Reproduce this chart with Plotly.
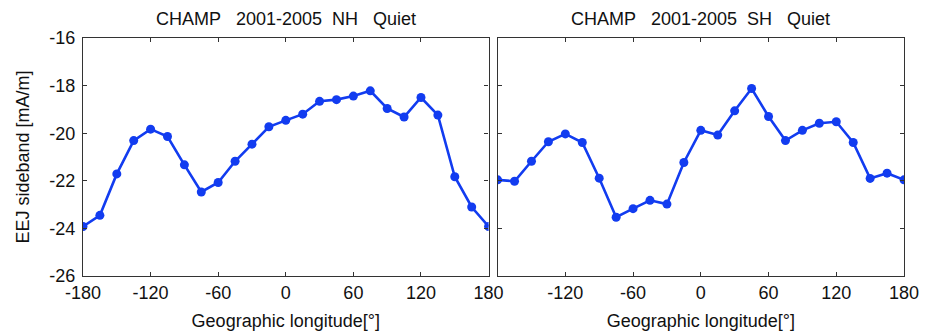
import plotly.graph_objects as go

lon = [-180, -165, -150, -135, -120, -105, -90, -75, -60, -45, -30, -15, 0,
       15, 30, 45, 60, 75, 90, 105, 120, 135, 150, 165, 180]
nh = [-23.92, -23.45, -21.71, -20.31, -19.83, -20.14, -21.33, -22.47, -22.07,
      -21.18, -20.46, -19.73, -19.46, -19.20, -18.66, -18.59, -18.44, -18.22,
      -18.96, -19.32, -18.50, -19.24, -21.83, -23.10, -23.92]
sh = [-21.96, -22.02, -21.18, -20.36, -20.03, -20.39, -21.89, -23.53, -23.17,
      -22.82, -22.98, -21.23, -19.88, -20.08, -19.06, -18.12, -19.30, -20.31,
      -19.88, -19.58, -19.52, -20.39, -21.90, -21.68, -21.96]
NB = "\u00a0"
titles = ["CHAMP" + NB * 3 + "2001-2005" + NB * 2 + "NH" + NB * 3 + "Quiet",
          "CHAMP" + NB * 3 + "2001-2005" + NB * 2 + "SH" + NB * 3 + "Quiet"]
xticks = [-180, -120, -60, 0, 60, 120, 180]
xlabels_left = ["-180", "-120", "-60", "0", "60", "120", "180"]
xlabels_right = ["", "-120", "-60", "0", "60", "120", "180"]
yticks = [-26, -24, -22, -20, -18, -16]
ylabels = ["-26", "-24", "-22", "-20", "-18", "-16"]

blue = "rgb(18,60,240)"
font = "Liberation Sans, Arial, sans-serif"

fig = go.Figure()
fig.add_trace(go.Scatter(x=lon, y=nh, mode="lines+markers", xaxis="x", yaxis="y",
                         line=dict(color=blue, width=2.6),
                         marker=dict(color=blue, size=9), showlegend=False))
fig.add_trace(go.Scatter(x=lon, y=sh, mode="lines+markers", xaxis="x2", yaxis="y2",
                         line=dict(color=blue, width=2.6),
                         marker=dict(color=blue, size=9), showlegend=False))

axcommon = dict(showgrid=False, zeroline=False, showline=True, mirror="ticks",
                linecolor="#333333", linewidth=1.3, ticks="inside", ticklen=4,
                automargin=False,
                tickcolor="#333333", tickfont=dict(size=18, color="#111111", family=font))
d1 = [0, 0.494]
d2 = [0.505, 1]
fig.update_layout(
    width=928, height=334,
    margin=dict(l=83, r=24, t=38, b=58),
    paper_bgcolor="white", plot_bgcolor="white",
    font=dict(family=font, color="#111111"),
    xaxis=dict(domain=d1, range=[-180, 180], tickvals=xticks, ticktext=xlabels_left,
               anchor="y",
               title=dict(text="Geographic longitude[°]", font=dict(size=18), standoff=12),
               **axcommon),
    yaxis=dict(domain=[0, 1], range=[-26, -16], tickvals=yticks, ticktext=ylabels,
               anchor="x", ticklabelstandoff=3,
               title=dict(text="EEJ sideband [mA/m]", font=dict(size=18), standoff=14),
               **axcommon),
    xaxis2=dict(domain=d2, range=[-180, 180], tickvals=xticks, ticktext=xlabels_right,
                anchor="y2",
                title=dict(text="Geographic longitude[°]", font=dict(size=18), standoff=12),
                **axcommon),
    yaxis2=dict(domain=[0, 1], range=[-26, -16], tickvals=yticks, anchor="x2",
                showticklabels=False, **axcommon),
    annotations=[
        dict(text=titles[0], x=sum(d1) / 2, y=1, xref="paper", yref="paper",
             xanchor="center", yanchor="bottom", yshift=7, showarrow=False,
             font=dict(size=18, family=font, color="#111111")),
        dict(text=titles[1], x=sum(d2) / 2, y=1, xref="paper", yref="paper",
             xanchor="center", yanchor="bottom", yshift=7, showarrow=False,
             font=dict(size=18, family=font, color="#111111")),
    ],
)
fig.write_html("out.html", config={"displayModeBar": False},
               post_script="document.body.style.margin='0';")
